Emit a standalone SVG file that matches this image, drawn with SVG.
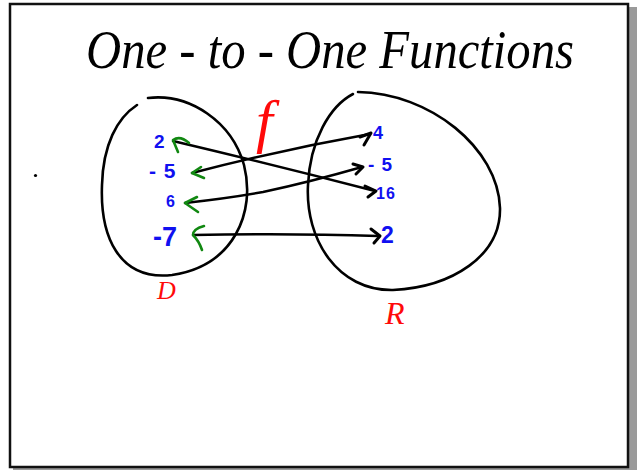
<svg xmlns="http://www.w3.org/2000/svg" width="637" height="470" viewBox="0 0 637 470">
<defs>
<style>
.ell{fill:none;stroke:#000;stroke-width:2.6;stroke-linecap:round}
.ln{fill:none;stroke:#000;stroke-width:2.4;stroke-linecap:round;stroke-linejoin:round}
.ah{fill:none;stroke:#000;stroke-width:3;stroke-linecap:round;stroke-linejoin:round}
.gr{fill:none;stroke:#118811;stroke-width:2.6;stroke-linecap:round;stroke-linejoin:round}
.bl{fill:#1010f0;font-family:"Liberation Sans",Arial,sans-serif;font-weight:bold}
.rd{fill:#ff0a0a;font-family:"Liberation Serif","Times New Roman",serif;font-style:italic}
.title{fill:#000;font-family:"Liberation Serif","Times New Roman",serif;font-style:italic}
</style>
</defs>
<rect x="0" y="0" width="637" height="470" fill="#fff"/>
<rect x="13" y="7" width="624" height="463" fill="#9a9a9a"/>
<rect x="10" y="4" width="618" height="463" fill="#fff" stroke="#111" stroke-width="2.5"/>
<circle cx="35.5" cy="175.5" r="1.6" fill="#000"/>
<text class="title" x="86" y="68" font-size="55" textLength="488" lengthAdjust="spacingAndGlyphs">One - to - One Functions</text>
<g id="domain">
<path class="ell" d="M148,98 C190,93 232,122 244,165 C256,212 234,266 172,275 C118,281 100,235 102,185 C103,145 117,118 137,105"/>
<text class="rd" x="157" y="299" font-size="26">D</text>
</g>
<g id="range">
<path class="ell" d="M358,92 C430,93 498,148 500,208 C501,256 452,287 393,290 C338,291 305,240 308,185 C310,140 330,106 353,94"/>
<text class="rd" x="385" y="324" font-size="32">R</text>
</g>
<g id="f-label">
<text class="rd" x="256" y="141" font-size="60">f</text>
</g>
<g id="d2"><text class="bl" x="154" y="148" font-size="19">2</text></g>
<g id="dm5"><text class="bl" x="149" y="178" font-size="21" letter-spacing="1">- 5</text></g>
<g id="d6"><text class="bl" x="166" y="207" font-size="16">6</text></g>
<g id="dm7"><text class="bl" x="153" y="246" font-size="27">-7</text></g>
<g id="r4"><text class="bl" x="373" y="139" font-size="18">4</text></g>
<g id="rm5"><text class="bl" x="368" y="171" font-size="19" letter-spacing="1">- 5</text></g>
<g id="r16"><text class="bl" x="376" y="199" font-size="16" letter-spacing="1">16</text></g>
<g id="r2"><text class="bl" x="381" y="243" font-size="23">2</text></g>
<g id="connectors">
<path class="ln" d="M173,141 Q270,164 375,191"/>
<path class="ah" d="M365,186 L376,191 L368,197"/>
<path class="gr" d="M189,143 Q180,135 173,140 L178,152"/>
<path class="ln" d="M192,173 Q280,150 370,134"/>
<path class="ah" d="M360,137 L371,133 L364,145"/>
<path class="gr" d="M201,167 L192,173 L204,178"/>
<path class="ln" d="M185,203 Q230,198 263,192 Q310,182 362,167"/>
<path class="ah" d="M353,164 L363,167 L356,174"/>
<path class="gr" d="M197,197 L185,203 L198,212"/>
<path class="ln" d="M193,235 Q290,233 378,236"/>
<path class="ah" d="M371,229 L380,236 L374,243"/>
<path class="gr" d="M204,226 Q193,229 193,235 Q199,241 202,250"/>
</g>
</svg>
